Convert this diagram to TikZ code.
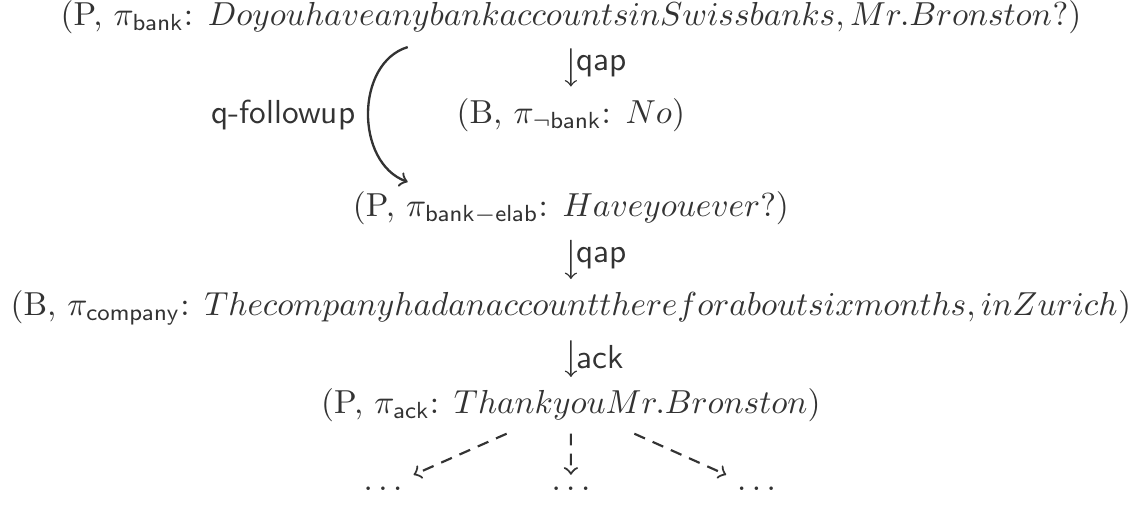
\documentclass[tikz,border=0pt]{standalone}
\usepackage{amssymb}
\begin{document}
\begin{tikzpicture}[scale=0.843, color=black!80,
  move/.style={->, line width=0.45pt, >=to, shorten <=1pt},
  branch/.style={->, line width=0.65pt, dash pattern=on 3.5pt off 2.5pt, >=to}]
\useasboundingbox (0,0) rectangle (14.3,6.34);
\node (l1) at (7.155,6.13) {(P, $\pi_{\mathsf{bank}}$: $Do you have any bank accounts in Swiss banks, Mr. Bronston?$)};
\node (l2) at (7.155,4.90) {(B, $\pi_{\neg\mathsf{bank}}$: $No$)};
\node (l3) at (7.155,3.73) {(P, $\pi_{\mathsf{bank-elab}}$: $Have you ever?$)};
\node (l4) at (7.155,2.48) {(B, $\pi_{\mathsf{company}}$: $The company had an account there for about six months, in Zurich$)};
\node (l5) at (7.155,1.26) {(P, $\pi_{\mathsf{ack}}$: $Thank you Mr. Bronston$)};
\node (d1) at (4.80,0.22) {$\ldots$};
\node (d2) at (7.155,0.22) {$\ldots$};
\node (d3) at (9.48,0.22) {$\ldots$};
% answer / acknowledgement moves
\draw[move] (l1) -- (l2) node[midway,right,inner sep=1.5pt] {\textsf{qap}};
\draw[move] (l3) -- (l4) node[midway,right,inner sep=1.5pt] {\textsf{qap}};
\draw[move] (l4) -- (l5) node[midway,right,inner sep=1.5pt] {\textsf{ack}};
% follow-up question
\coordinate (fu1) at (5.11,5.75);
\coordinate (fu2) at (5.11,4.06);
\draw[->, line width=0.7pt, >=to] (fu1) .. controls (4.45,5.55) and (4.45,4.3) .. (fu2);
\node (fu) at (3.55,4.90) {\textsf{q-followup}};
% continuations
\draw[branch] (l5) -- (d1);
\draw[branch] (l5) -- (d2);
\draw[branch] (l5) -- (d3);
\end{tikzpicture}
\end{document}
